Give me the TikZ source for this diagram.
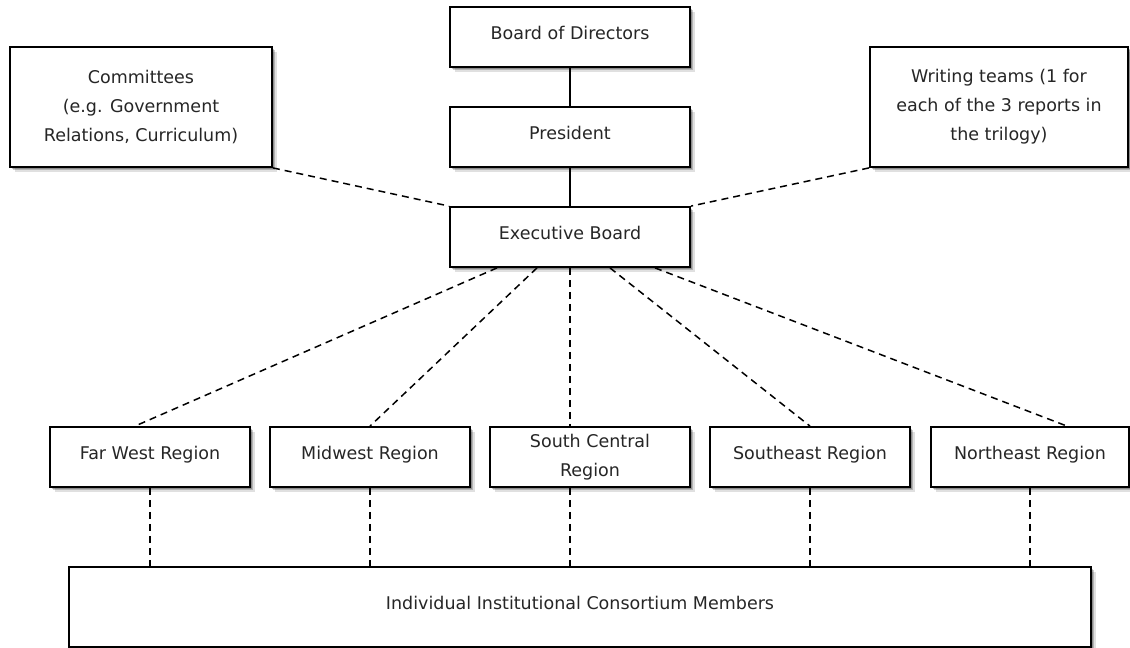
\documentclass[tikz,border=0pt]{standalone}
\usepackage{fontspec}
\setmainfont{DejaVu Sans}
\usetikzlibrary{shadows}
\begin{document}
\begin{tikzpicture}[x=1pt,y=-1pt,
  boxshadow/.style={
    general shadow={shadow xshift=1.5pt,shadow yshift=-1.5pt,fill=black,opacity=.22},
    general shadow={shadow xshift=3pt,shadow yshift=-3pt,fill=black,opacity=.20},
    general shadow={shadow xshift=4.5pt,shadow yshift=-4.5pt,fill=black,opacity=.12}},
  unit/.style={draw=black,line width=1.8pt,fill=white,boxshadow,inner sep=0pt,
    font=\fontsize{17.5}{29}\selectfont,text=black!85,align=center},
  oneline/.style={unit,text height=13pt,text depth=8pt},
  link/.style={line width=1.8pt},
  loose/.style={line width=1.5pt,dash pattern=on 7pt off 5pt},
]
\useasboundingbox (0,0) rectangle (1130,648);

% leadership chain
\node[oneline,minimum width=240pt,minimum height=60pt] (board) at (570,37) {Board of Directors};
\node[oneline,minimum width=240pt,minimum height=60pt] (pres)  at (570,137) {President};
\node[oneline,minimum width=240pt,minimum height=60pt] (exec)  at (570,237) {Executive Board};

% advisory groups
\node[unit,minimum width=262pt,minimum height=120pt] (com) at (141,107)
  {Committees\\(e.g. Government\\Relations, Curriculum)};
\node[unit,minimum width=258pt,minimum height=120pt] (wri) at (999,107)
  {Writing teams (1 for\\each of the 3 reports in\\the trilogy)};

% regions
\node[oneline,minimum width=200pt,minimum height=60pt] (farwest) at (150,457) {Far West Region};
\node[oneline,minimum width=200pt,minimum height=60pt] (midwest) at (370,457) {Midwest Region};
\node[unit,minimum width=200pt,minimum height=60pt] (southcentral) at (590,457) {South Central\\Region};
\node[oneline,minimum width=200pt,minimum height=60pt] (southeast) at (810,457) {Southeast Region};
\node[oneline,minimum width=198pt,minimum height=60pt] (northeast) at (1030,457) {Northeast Region};

% members
\node[oneline,minimum width=1022pt,minimum height=80pt] (members) at (580,607)
  {Individual Institutional Consortium Members};

% solid reporting lines
\draw[link] (board) -- (pres);
\draw[link] (pres) -- (exec);

% dashed links from the executive board
\draw[loose] (com.south east) -- (exec.north west);
\draw[loose] (wri.south west) -- (exec.north east);
\draw[loose] ([xshift=-73pt]exec.south) -- ([xshift=-15pt]farwest.north);
\draw[loose] ([xshift=-33pt]exec.south) -- (midwest.north);
\draw[loose] (exec.south) -- ([xshift=-20pt]southcentral.north);
\draw[loose] ([xshift=40pt]exec.south) -- (southeast.north);
\draw[loose] ([xshift=85pt]exec.south) -- ([xshift=37pt]northeast.north);

% regions down to the members
\foreach \n/\d in {farwest/0,midwest/0,southcentral/-20,southeast/0,northeast/0}
  \draw[loose] ([xshift=\d pt]\n.south) -- ([xshift=\d pt]\n.south |- members.north);
\end{tikzpicture}
\end{document}
